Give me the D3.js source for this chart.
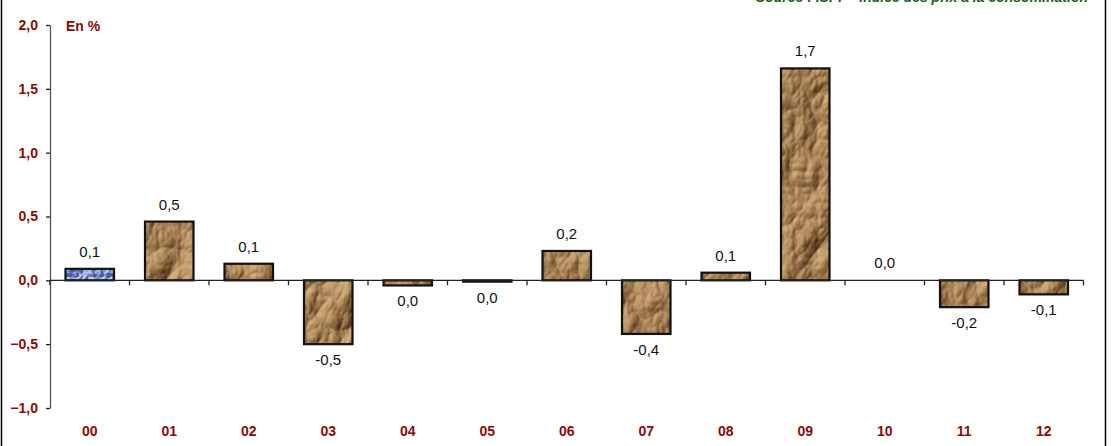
<!DOCTYPE html>
<html><head><meta charset="utf-8">
<script src="https://cdn.jsdelivr.net/npm/d3@7"></script>
<style>body{margin:0;background:#fff}svg{display:block}</style>
</head><body>
<svg id="c" width="1112" height="446"></svg>
<script>
const categories = ["00","01","02","03","04","05","06","07","08","09","10","11","12"];
const values = [0.09, 0.46, 0.13, -0.50, -0.04, -0.01, 0.23, -0.42, 0.06, 1.66, 0.0, -0.21, -0.11];
const labels = ["0,1","0,5","0,1","-0,5","0,0","0,0","0,2","-0,4","0,1","1,7","0,0","-0,2","-0,1"];
const yTicks = [-1, -0.5, 0, 0.5, 1, 1.5, 2];
const unitLabel = "En %";
const sourceText = "Source : ISPF - Indice des prix à la consommation";

const W = 1112, H = 446;
const svg = d3.select("#c");
const red = "#8b0a0a";

const defs = svg.append("defs");
function texture(id, seed, freq, r, g, b) {
  const f = defs.append("filter").attr("id", "f" + id).attr("x", 0).attr("y", 0).attr("width", W).attr("height", H)
    .attr("filterUnits", "userSpaceOnUse").attr("color-interpolation-filters", "sRGB");
  f.append("feTurbulence").attr("type", "turbulence").attr("baseFrequency", freq).attr("numOctaves", 4).attr("seed", seed).attr("result", "n");
  const dl = f.append("feDiffuseLighting").attr("in", "n").attr("lighting-color", "#fff").attr("surfaceScale", 6).attr("diffuseConstant", 1.0).attr("result", "l");
  dl.append("feDistantLight").attr("azimuth", 225).attr("elevation", 38);
  const ct = f.append("feComponentTransfer").attr("in", "l");
  ct.append("feFuncR").attr("type", "table").attr("tableValues", r);
  ct.append("feFuncG").attr("type", "table").attr("tableValues", g);
  ct.append("feFuncB").attr("type", "table").attr("tableValues", b);
  const p = defs.append("pattern").attr("id", id).attr("patternUnits", "userSpaceOnUse")
    .attr("x", 0).attr("y", 0).attr("width", W).attr("height", H);
  p.append("rect").attr("width", W).attr("height", H).attr("fill", "#c09a6c").attr("filter", `url(#f${id})`);
}
texture("paper", 7, "0.022 0.016", "0.30 0.58 0.86", "0.19 0.44 0.72", "0.09 0.28 0.52");
texture("bluep", 3, "0.09", "0.28 0.50 0.75", "0.36 0.58 0.82", "0.60 0.82 0.97");

// frame
svg.append("line").attr("x1", 1.5).attr("x2", 1.5).attr("y1", 0).attr("y2", H).attr("stroke", "#000").attr("stroke-width", 1.5);
svg.append("line").attr("x1", 1105.5).attr("x2", 1105.5).attr("y1", 0).attr("y2", H).attr("stroke", "#000").attr("stroke-width", 1.5);

svg.append("text").attr("x", 1088).attr("y", 2).attr("text-anchor", "end")
  .attr("font-family", "Liberation Sans, Arial, sans-serif").attr("font-size", 14).attr("font-weight", "bold").attr("font-style", "italic")
  .attr("fill", "#1e5b1e").text(sourceText);

const x = d3.scaleBand().domain(categories).range([50, 1083.5]).paddingInner(0.39).paddingOuter(0.195);
const y = d3.scaleLinear().domain([-1, 2]).range([408, 25]);

// y axis
const ya = svg.append("g").attr("transform", "translate(50,0)")
  .call(d3.axisLeft(y).tickValues(yTicks).tickSize(4).tickSizeOuter(0).tickFormat(d => d3.format(".1f")(d).replace(".", ",")));
ya.select(".domain").attr("stroke", "#555").attr("stroke-width", 1.3);
ya.selectAll(".tick line").attr("stroke", "#222").attr("stroke-width", 1.3);
ya.selectAll(".tick text").attr("x", -12).attr("fill", red).attr("font-family", "Liberation Sans, Arial, sans-serif")
  .attr("font-size", 14).attr("font-weight", "bold");

svg.append("text").attr("x", 66).attr("y", 31).attr("fill", red).attr("font-family", "Liberation Sans, Arial, sans-serif")
  .attr("font-size", 14).attr("font-weight", "bold").text(unitLabel);

// bars
const idx = categories.map((c, i) => i);
svg.append("g").selectAll("rect").data(idx.filter(i => values[i] !== 0)).join("rect")
  .attr("x", i => x(categories[i]))
  .attr("width", x.bandwidth())
  .attr("y", i => y(Math.max(0, values[i])))
  .attr("height", i => Math.max(1, Math.abs(y(values[i]) - y(0))))
  .attr("fill", i => i === 0 ? "url(#bluep)" : "url(#paper)")
  .attr("stroke", "#111").attr("stroke-width", 2.2);

// x axis line with ticks between categories
const xa = svg.append("g");
xa.append("line").attr("x1", 50).attr("x2", 1083.5).attr("y1", y(0)).attr("y2", y(0)).attr("stroke", "#222").attr("stroke-width", 1.3);
xa.selectAll("line.t").data(d3.range(categories.length + 1)).join("line").attr("class", "t")
  .attr("x1", i => 50 + x.step() * i).attr("x2", i => 50 + x.step() * i)
  .attr("y1", y(0)).attr("y2", y(0) + 5).attr("stroke", "#222").attr("stroke-width", 1.3);

svg.append("g").selectAll("text").data(categories).join("text")
  .attr("x", d => x(d) + x.bandwidth() / 2).attr("y", 436).attr("text-anchor", "middle")
  .attr("fill", red).attr("font-family", "Liberation Sans, Arial, sans-serif").attr("font-size", 14).attr("font-weight", "bold")
  .text(d => d);

// value labels
svg.append("g").selectAll("text").data(idx).join("text")
  .attr("x", i => x(categories[i]) + x.bandwidth() / 2)
  .attr("y", i => values[i] >= 0 ? y(values[i]) - 12 : y(values[i]) + 21)
  .attr("text-anchor", "middle").attr("fill", "#111").attr("font-family", "Liberation Sans, Arial, sans-serif").attr("font-size", 15)
  .text(i => labels[i]);
</script>
</body></html>
